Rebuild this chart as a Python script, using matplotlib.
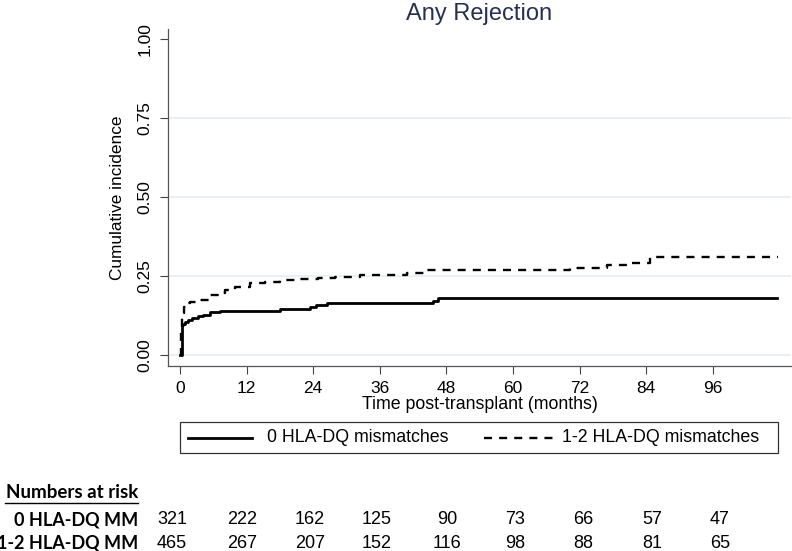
import numpy as np
import matplotlib
matplotlib.use("Agg")
from matplotlib import pyplot as plt
from matplotlib.lines import Line2D
from matplotlib.patches import Rectangle

plt.rcParams['font.family'] = ['Liberation Sans', 'DejaVu Sans']

# cumulative incidence
t_0mm = [0, 0.3, 0.5, 0.9, 1.4, 2.2, 3.2, 4.1, 5.4, 7.2, 18.0, 23.4, 24.5, 26.5, 45.6, 46.5, 107.6]
ci_0mm = [0, 0.094, 0.098, 0.104, 0.110, 0.117, 0.122, 0.126, 0.135, 0.138, 0.145, 0.151, 0.156, 0.164, 0.171, 0.180, 0.180]

t_12mm = [0, 0.2, 0.4, 0.7, 1.0, 1.8, 3.6, 5.4, 7.2, 8.1, 9.9, 12.6, 15.3, 18.0, 21.6, 24.9, 27.9, 32.4,
          40.9, 44.1, 70.3, 77.0, 80.5, 84.7, 107.7]
ci_12mm = [0, 0.08, 0.132, 0.150, 0.163, 0.168, 0.173, 0.189, 0.196, 0.205, 0.215, 0.226, 0.231, 0.236,
           0.240, 0.244, 0.247, 0.252, 0.258, 0.268, 0.276, 0.284, 0.292, 0.310, 0.310]

months = [0, 12, 24, 36, 48, 60, 72, 84, 96]
yticks = [0, 0.25, 0.5, 0.75, 1.0]

legend_labels = ['0 HLA-DQ mismatches', '1-2 HLA-DQ mismatches']
risk_labels = ['0 HLA-DQ MM', '1-2 HLA-DQ MM']
risk_0mm = [321, 222, 162, 125, 90, 73, 66, 57, 47]
risk_12mm = [465, 267, 207, 152, 116, 98, 88, 81, 65]
# hand placed columns (pixels from left) in the original table
risk_cols = [172, 242, 310, 377, 447, 515, 583, 652, 720]

W, H = 792, 551
fig = plt.figure(figsize=(W / 100, H / 100), dpi=100)
ax = fig.add_axes([168 / W, 1 - 366 / H, (791 - 168) / W, (366 - 29) / H])

def px(x, y):
    # pixel position (from top-left) -> figure fraction
    return x / W, 1 - y / H

for y in [0, 0.25, 0.5, 0.75]:
    ax.axhline(y, color='#e6eeef', lw=1.2, zorder=0)

dash = (0, (3.4, 3.0))
ax.step(t_0mm, ci_0mm, where='post', color='black', lw=2.0)
ax.step(t_12mm, ci_12mm, where='post', color='black', lw=1.7, linestyle=dash)

ax.set_xlim(-2.16, 110.1)
ax.set_ylim(-0.036, 1.032)
ax.set_xticks(months)
ax.set_yticks(yticks)
ax.set_yticklabels(['%.2f' % v for v in yticks], rotation=90, va='center')
ax.tick_params(axis='both', direction='out', length=6, width=0.8, color='#444444', labelsize=12.5)
ax.tick_params(axis='x', pad=5)
ax.tick_params(axis='y', pad=5)
for s in ['top', 'right']:
    ax.spines[s].set_visible(False)
for s in ['left', 'bottom']:
    ax.spines[s].set_color('#555555')
    ax.spines[s].set_linewidth(0.9)

ax.set_xlabel('Time post-transplant (months)', fontsize=12.8, labelpad=0)
ax.set_ylabel('Cumulative incidence', fontsize=12.4, labelpad=9)
fig.text(*px(479, 14), 'Any Rejection', fontsize=17, color='#27304f', ha='center', va='center')

# legend box below the axis, drawn by hand
x0, y0 = px(180, 453)
x1, y1 = px(778, 422)
fig.add_artist(Rectangle((x0, y0), x1 - x0, y1 - y0, transform=fig.transFigure,
                         fill=False, edgecolor='#333333', lw=0.9))
ly = 1 - 437.5 / H
fig.add_artist(Line2D([188 / W, 252 / W], [ly, ly], color='black', lw=2.0))
fig.text(267 / W, ly, legend_labels[0], fontsize=12.8, va='center', ha='left')
fig.add_artist(Line2D([484 / W, 553 / W], [ly, ly], color='black', lw=1.7, linestyle=dash))
fig.text(562 / W, ly, legend_labels[1], fontsize=12.8, va='center', ha='left')

# numbers at risk table
bold = dict(family=['Lato', 'DejaVu Sans'], fontweight='bold', fontsize=13)
fig.text(*px(138, 493), 'Numbers at risk', ha='right', va='center',
         **dict(bold, fontsize=13.5))
fig.add_artist(Line2D([5 / W, 138 / W], [1 - 503 / H, 1 - 503 / H], color='black', lw=1.0))
for row, (lab, vals) in enumerate(zip(risk_labels, [risk_0mm, risk_12mm])):
    yy = 1 - (520 + 23 * row) / H
    fig.text(138 / W, yy, lab, ha='right', va='center', **bold)
    for xc, v in zip(risk_cols, vals):
        fig.text(xc / W, yy, str(v), ha='center', va='center', fontsize=13)

fig.savefig('out.png', dpi=100)
